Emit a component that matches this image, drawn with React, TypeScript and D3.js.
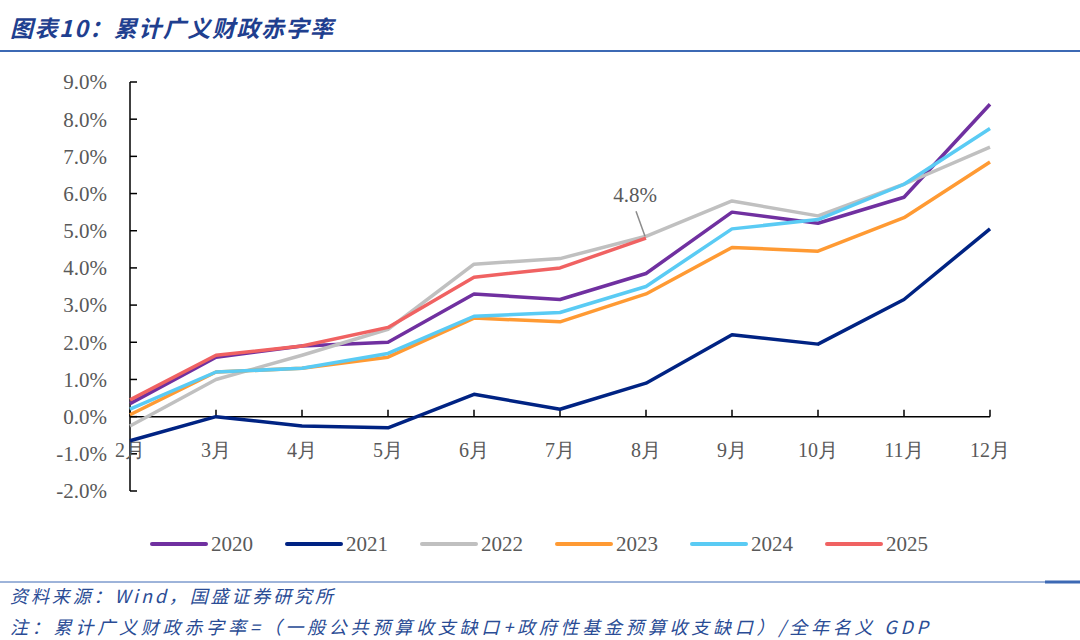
import React from 'react';
import * as d3 from 'd3';

const months = ['2月', '3月', '4月', '5月', '6月', '7月', '8月', '9月', '10月', '11月', '12月'];
const yTicks = [-2, -1, 0, 1, 2, 3, 4, 5, 6, 7, 8, 9];

const s2020 = [0.35, 1.6, 1.9, 2.0, 3.3, 3.15, 3.85, 5.5, 5.2, 5.9, 8.4];
const s2021 = [-0.65, 0.0, -0.25, -0.3, 0.6, 0.2, 0.9, 2.2, 1.95, 3.15, 5.05];
const s2022 = [-0.25, 1.0, 1.65, 2.35, 4.1, 4.25, 4.85, 5.8, 5.4, 6.25, 7.25];
const s2023 = [0.05, 1.2, 1.3, 1.6, 2.65, 2.55, 3.3, 4.55, 4.45, 5.35, 6.85];
const s2024 = [0.2, 1.2, 1.3, 1.7, 2.7, 2.8, 3.5, 5.05, 5.3, 6.25, 7.75];
const s2025 = [0.45, 1.65, 1.9, 2.4, 3.75, 4.0, 4.8];

const series = [
  { name: '2020', values: s2020, color: '#7030A0' },
  { name: '2021', values: s2021, color: '#002383' },
  { name: '2022', values: s2022, color: '#C0C0C0' },
  { name: '2023', values: s2023, color: '#FF9A33' },
  { name: '2024', values: s2024, color: '#5ACBF4' },
  { name: '2025', values: s2025, color: '#F06262' },
];

const serif = '"Liberation Serif", "DejaVu Serif", serif';
const cjk = '"Noto Sans CJK SC", sans-serif';

export default function App() {
  const x = d3.scalePoint<string>().domain(months).range([130, 990]);
  const y = d3.scaleLinear().domain([-2, 9]).range([491, 82]);

  const line = d3
    .line<number>()
    .x((_, i) => x(months[i]) as number)
    .y(d => y(d));

  const last2025 = s2025.length - 1;
  const annX = x(months[last2025]) as number;
  const annY = y(s2025[last2025]);

  return (
    <svg
      width={1080}
      height={640}
      style={{ position: 'absolute', left: 0, top: 0, background: '#fff' }}
    >
      <rect width={1080} height={640} fill="#fff" />

      {/* header */}
      <text
        x={10}
        y={37}
        fontFamily={cjk}
        fontSize={23}
        fontWeight="bold"
        fontStyle="italic"
        fill="#1F3F8F"
        textLength={323}
        lengthAdjust="spacing"
      >
        图表10：累计广义财政赤字率
      </text>
      <line x1={0} x2={1080} y1={51} y2={51} stroke="#3C69B4" strokeWidth={2} />

      {/* y axis */}
      <line x1={130} x2={130} y1={y(9)} y2={y(-2)} stroke="#000" strokeWidth={1.5} />
      {yTicks.map(t => (
        <g key={t}>
          <line x1={130} x2={137} y1={y(t)} y2={y(t)} stroke="#000" strokeWidth={1.5} />
          <text
            x={107}
            y={y(t)}
            dy="0.35em"
            textAnchor="end"
            fontFamily={serif}
            fontSize={21}
            fill="#595959"
          >
            {t.toFixed(1) + '%'}
          </text>
        </g>
      ))}

      {/* x axis at zero */}
      <line x1={130} x2={990} y1={y(0)} y2={y(0)} stroke="#000" strokeWidth={1.5} />
      {months.map(m => (
        <g key={m}>
          <line
            x1={x(m)}
            x2={x(m)}
            y1={y(0)}
            y2={y(0) - 7}
            stroke="#000"
            strokeWidth={1.5}
          />
          <text
            x={x(m)}
            y={457}
            textAnchor="middle"
            fontFamily={serif}
            fontSize={20}
            fill="#595959"
          >
            {m}
          </text>
        </g>
      ))}

      {/* lines */}
      {series.map(s => (
        <path
          key={s.name}
          d={line(s.values) || ''}
          fill="none"
          stroke={s.color}
          strokeWidth={3.5}
          strokeLinejoin="round"
        />
      ))}

      {/* annotation */}
      <line x1={annX - 10} x2={annX - 1} y1={annY - 27} y2={annY - 2} stroke="#8C8C8C" strokeWidth={1.5} />
      <text
        x={annX - 11}
        y={annY - 36}
        textAnchor="middle"
        fontFamily={serif}
        fontSize={21}
        fill="#595959"
      >
        {s2025[last2025].toFixed(1) + '%'}
      </text>

      {/* legend */}
      {series.map((s, i) => {
        const lx = 152 + i * 135;
        return (
          <g key={s.name}>
            <line x1={lx} x2={lx + 54} y1={544} y2={544} stroke={s.color} strokeWidth={4} strokeLinecap="round" />
            <text x={lx + 59} y={544} dy="0.35em" fontFamily={serif} fontSize={21} fill="#595959">
              {s.name}
            </text>
          </g>
        );
      })}

      {/* footer */}
      <line x1={0} x2={1080} y1={582} y2={582} stroke="#3C69B4" strokeWidth={1} />
      <line x1={1045} x2={1080} y1={582} y2={582} stroke="#3C69B4" strokeWidth={3} />
      <text
        x={10}
        y={603}
        fontFamily={cjk}
        fontSize={18}
        fontStyle="italic"
        fill="#2A4C95"
        textLength={323}
        lengthAdjust="spacing"
      >
        资料来源：Wind，国盛证券研究所
      </text>
      <text
        x={10}
        y={634}
        fontFamily={cjk}
        fontSize={18}
        fontStyle="italic"
        fill="#2A4C95"
        textLength={918}
        lengthAdjust="spacing"
      >
        注：累计广义财政赤字率=（一般公共预算收支缺口+政府性基金预算收支缺口）/全年名义 GDP
      </text>
    </svg>
  );
}
